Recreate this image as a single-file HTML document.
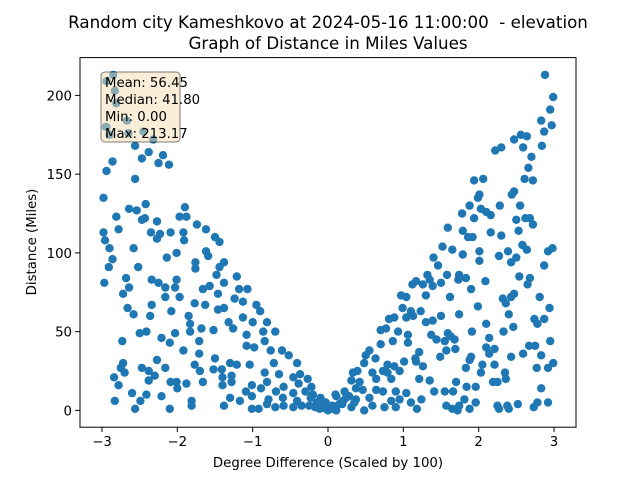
<!DOCTYPE html>
<html><head><meta charset="utf-8"><style>
body{margin:0;background:#fff;}
svg{display:block;font-family:"DejaVu Sans","Liberation Sans",sans-serif;}
</style></head><body>
<svg id="chart" width="640" height="480" viewBox="0 0 640 480" xmlns="http://www.w3.org/2000/svg">
<rect width="640" height="480" fill="#fff"/>
<text x="328" y="28" text-anchor="middle" font-size="16.7">Random city Kameshkovo at 2024-05-16 11:00:00&#160; - elevation</text>
<text x="328" y="49" text-anchor="middle" font-size="16.7">Graph of Distance in Miles Values</text>
<g id="points"></g>
<rect x="80" y="57.6" width="496" height="369.6" fill="none" stroke="#000" stroke-width="1"/>
<g id="xticks"></g>
<g id="yticks"></g>
<text x="328" y="467" text-anchor="middle" font-size="13.3">Degree Difference (Scaled by 100)</text>
<text transform="translate(36,242) rotate(-90)" text-anchor="middle" font-size="13.3">Distance (Miles)</text>
<g>
<rect x="101" y="72" width="79" height="70" rx="4" fill="rgb(245,222,179)" fill-opacity="0.5" stroke="#000" stroke-opacity="0.5"/>
<text x="105" y="87" font-size="13.3">Mean: 56.45</text>
<text x="105" y="104" font-size="13.3">Median: 41.80</text>
<text x="105" y="121" font-size="13.3">Min: 0.00</text>
<text x="105" y="138" font-size="13.3">Max: 213.17</text>
</g>
</svg>
<script>
const xs = [-2.85,-2.94,-2.83,-2.81,-2.67,-2.94,-2.65,-2.45,-2.32,-2.56,-2.38,-2.47,-2.19,-2.25,-2.11,-2.86,-2.94,-2.56,-2.98,-2.42,-2.64,-2.54,-2.81,-2.47,-2.43,-2.27,-1.90,-1.97,-1.88,-1.74,-1.62,-2.78,-2.98,-2.35,-2.23,-2.09,-1.92,-2.96,-2.27,-1.91,-1.50,-1.44,-2.90,-2.58,-1.62,-1.59,-2.14,-2.01,-2.86,-1.76,-1.38,-1.44,-2.91,-2.52,-1.76,-1.48,-2.68,-2.34,-2.01,-2.97,-2.25,-1.38,-1.21,-2.16,-2.64,-2.03,-1.66,-1.57,-1.18,-1.07,-2.72,-1.97,-2.16,-1.46,-1.24,-1.77,-1.63,-1.13,-2.34,-2.66,-1.46,-1.38,-0.95,-0.90,-2.08,-2.58,-2.36,-1.85,-1.32,-1.13,-1.00,-0.81,-1.83,-1.68,-1.52,-1.26,-1.08,-0.86,-0.70,-2.50,-2.41,-2.03,-2.21,-1.83,-1.71,-2.10,-2.73,-0.84,-1.08,-0.98,-1.92,-1.71,-0.76,-0.61,-0.52,-1.50,-1.30,-1.21,-0.72,-2.27,-2.72,-1.77,-0.41,-2.75,-2.47,-2.38,-2.16,-1.52,-1.41,-1.70,-0.84,-0.65,-0.37,-2.84,-2.70,-2.30,-1.40,-1.28,-1.04,-0.46,-0.27,-2.38,-2.09,-2.01,-1.88,-1.66,-1.40,-1.28,-1.01,-0.81,-0.59,-0.39,-0.22,-2.78,-2.00,-1.09,-0.89,-0.69,-0.46,-2.60,-2.41,-2.21,-1.30,-1.01,-0.79,-0.60,-0.41,-0.23,-0.09,-2.83,-2.49,-1.81,-1.81,-1.17,-0.81,-0.59,-0.35,-0.17,-0.02,-2.56,-2.10,-1.38,-1.01,-0.92,-0.70,-0.46,-0.11,-2.95,-2.90,
2.88,2.99,2.95,2.83,2.97,2.87,2.47,2.56,2.64,2.59,2.84,2.30,2.22,2.70,2.66,2.61,2.72,1.94,2.06,2.47,2.44,2.01,1.99,1.88,2.28,2.03,2.10,2.16,1.78,1.94,2.55,2.50,2.62,2.68,2.72,2.53,1.59,2.16,2.30,1.79,1.92,1.86,1.52,1.65,1.79,2.01,2.01,2.27,2.39,2.50,2.43,2.58,2.64,2.92,2.98,2.87,1.40,1.46,1.58,1.32,1.35,1.74,1.83,1.73,2.09,2.54,2.68,2.65,1.17,1.12,1.26,1.39,1.50,1.90,1.30,0.97,1.04,0.99,1.10,1.13,1.23,1.62,1.99,2.32,2.36,2.47,2.43,2.40,2.81,2.94,1.74,1.04,0.81,0.88,1.30,1.39,1.50,2.10,2.74,2.78,2.87,2.46,2.33,1.91,2.14,0.70,0.77,0.93,1.06,1.37,1.59,1.63,1.44,1.68,1.55,0.70,0.86,1.06,2.10,2.21,2.67,2.75,2.95,0.55,0.50,1.21,1.57,1.69,2.14,2.59,2.43,2.83,0.63,1.16,1.49,1.90,1.88,0.48,0.79,0.88,1.01,1.17,1.26,1.83,2.05,2.21,2.77,2.92,2.99,0.33,0.39,0.59,0.73,0.79,0.95,2.03,2.35,0.31,0.42,0.64,0.84,1.21,1.35,1.70,2.19,2.25,2.36,0.22,0.37,0.46,0.64,0.73,0.90,1.04,1.41,1.55,1.66,1.84,1.96,2.83,0.11,0.24,0.37,0.55,0.84,0.95,1.10,1.24,1.81,2.78,2.92,-0.03,0.06,0.19,0.31,0.48,0.59,0.75,0.90,1.18,1.57,1.65,1.72,1.74,1.88,1.96,2.25,2.27,2.38,2.40,2.52,2.73,-0.03,0.11,0.02,
-0.15,-0.05,0.05,0.15,-0.20,0.20,0.10,-0.10,0.00,-0.30,0.28,-0.25,0.35];
const ys = [213,209,203,195,184,180,176,177,172,168,164,160,162,157,156,158,152,147,135,131,128,127,123,121,122,120,129,123,123,118,115,115,113,113,112,113,113,108,109,108,110,107,103,103,101,98,97,100,96,94,94,91,91,91,90,86,84,83,83,81,81,81,85,78,78,78,77,79,77,77,74,72,72,74,71,68,67,69,67,65,64,65,67,63,63,61,60,60,56,59,56,56,55,52,51,52,48,50,50,49,50,49,46,50,44,43,44,44,41,40,38,36,38,38,35,33,30,29,30,32,30,29,30,27,27,25,27,26,26,25,24,23,23,21,24,22,21,22,29,21,20,19,18,18,17,18,16,18,16,18,15,17,15,16,14,12,14,12,11,11,10,9,8,9,7,8,6,8,6,6,6,6,3,6,4,3,3,2,3,1,1,3,1,1,2,2,1,180,175,
213,199,191,184,181,177,172,175,174,167,168,167,165,161,154,147,146,146,147,139,137,137,135,130,130,128,126,124,125,122,130,121,122,122,118,114,116,113,111,114,110,110,104,102,99,101,95,98,101,97,94,105,102,101,103,92,97,92,86,86,83,86,84,83,82,85,84,80,82,80,80,79,81,77,73,73,72,65,63,60,63,72,66,71,68,74,72,61,72,65,61,59,58,59,56,57,60,55,58,55,58,53,50,50,46,51,52,50,48,48,49,47,45,45,44,42,44,43,40,39,41,41,44,38,35,37,38,39,36,36,34,35,33,33,34,34,32,30,29,28,31,31,28,27,29,29,27,27,30,24,25,24,25,24,25,24,24,19,18,20,20,20,19,18,18,18,20,12,14,13,13,12,12,11,12,12,12,15,15,14,9,8,7,8,6,7,5,7,7,5,5,5,3,4,2,0,3,2,2,1,3,1,0,3,1,5,3,1,3,1,4,2,1,0,2,
5,2,1,4,10,6,10,8,0,12,9,3,5];
const xTicks = [-3,-2,-1,0,1,2,3];
const yTicks = [0,50,100,150,200];
const X0=80,X1=576,Y0=427.2,Y1=57.6,XMIN=-3.292,XMAX=3.292,YMIN=-10.67,YMAX=224;
function sx(v){return X0+(v-XMIN)/(XMAX-XMIN)*(X1-X0);}
function sy(v){return Y0-(v-YMIN)/(YMAX-YMIN)*(Y0-Y1);}
const NS="http://www.w3.org/2000/svg";
const pg=document.getElementById('points');
for(let i=0;i<Math.min(xs.length,ys.length);i++){
  const c=document.createElementNS(NS,'circle');
  c.setAttribute('cx',sx(xs[i]).toFixed(1));
  c.setAttribute('cy',sy(ys[i]).toFixed(1));
  c.setAttribute('r','4.2');
  c.setAttribute('fill','#1f77b4');
  
  
  pg.appendChild(c);
}
const xg=document.getElementById('xticks');
xTicks.forEach(t=>{
  const x=sx(t);
  const l=document.createElementNS(NS,'line');
  l.setAttribute('x1',x);l.setAttribute('x2',x);l.setAttribute('y1',Y0);l.setAttribute('y2',Y0+4.9);
  l.setAttribute('stroke','#000');
  
  
  xg.appendChild(l);
  const tx=document.createElementNS(NS,'text');
  tx.setAttribute('x',x);tx.setAttribute('y',Y0+19);tx.setAttribute('text-anchor','middle');tx.setAttribute('font-size','13.3');
  tx.textContent=(t<0?'\u2212'+(-t):String(t));
  
  
  xg.appendChild(tx);
});
const yg=document.getElementById('yticks');
yTicks.forEach(t=>{
  const y=sy(t);
  const l=document.createElementNS(NS,'line');
  l.setAttribute('x1',X0-4.9);l.setAttribute('x2',X0);l.setAttribute('y1',y);l.setAttribute('y2',y);
  l.setAttribute('stroke','#000');
  
  
  yg.appendChild(l);
  const tx=document.createElementNS(NS,'text');
  tx.setAttribute('x',X0-8);tx.setAttribute('y',y+5);tx.setAttribute('text-anchor','end');tx.setAttribute('font-size','13.3');
  tx.textContent=String(t);
  
  
  yg.appendChild(tx);
});
</script>
</body></html>
